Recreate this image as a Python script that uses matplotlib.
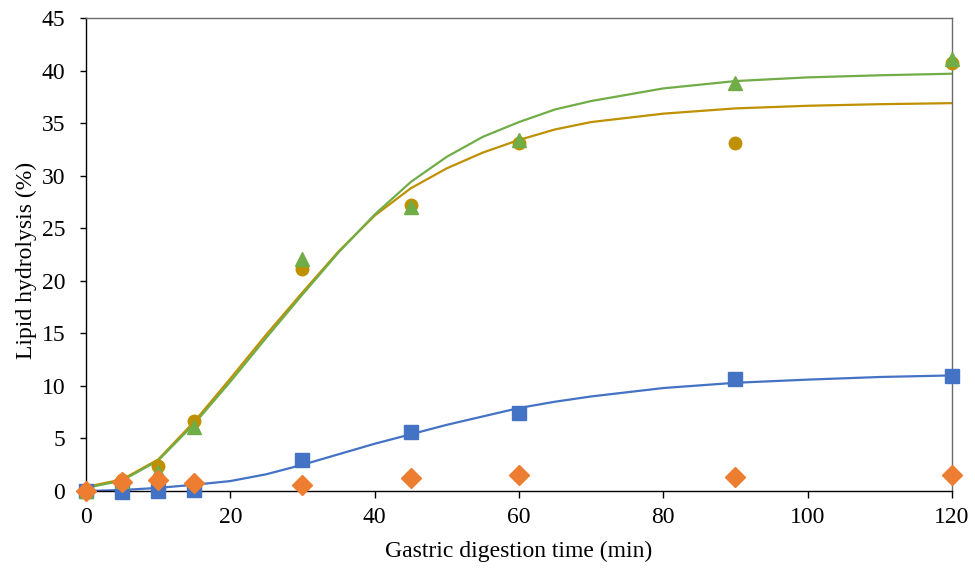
import matplotlib.pyplot as plt

# measured time points (min)
time = [0, 5, 10, 15, 30, 45, 60, 90, 120]

# lipid hydrolysis (%) per sample
blue_sq = [0.0, -0.05, 0.0, 0.1, 3.0, 5.6, 7.45, 10.65, 10.95]
orange_dia = [0.0, 0.9, 1.05, 0.75, 0.6, 1.2, 1.5, 1.3, 1.5]
gold_circ = [0.0, 1.05, 2.35, 6.7, 21.1, 27.2, 33.1, 33.1, 40.7]
green_tri = [0.0, 1.0, 1.8, 6.1, 22.1, 27.0, 33.4, 38.8, 41.1]

# fitted curves
fit_time = [0, 5, 10, 15, 20, 25, 30, 35, 40, 45, 50, 55, 60, 65, 70, 80, 90, 100, 110, 120]
blue_fit = [0.0, 0.1, 0.3, 0.6, 0.95, 1.6, 2.5, 3.5, 4.5, 5.4, 6.3, 7.1, 7.9, 8.5,
            9.0, 9.8, 10.3, 10.6, 10.85, 11.0]
gold_fit = [0.4, 1.1, 3.0, 6.6, 10.7, 14.9, 18.9, 22.8, 26.2, 28.8, 30.7, 32.2, 33.4, 34.4,
            35.1, 35.9, 36.4, 36.65, 36.8, 36.9]
green_fit = [0.3, 1.0, 2.9, 6.4, 10.4, 14.6, 18.7, 22.7, 26.3, 29.4, 31.8, 33.7, 35.1, 36.3,
             37.1, 38.3, 39.0, 39.35, 39.55, 39.7]

BLUE = '#4472C4'
ORANGE = '#ED7D31'
GOLD = '#BF9000'
GREEN = '#70AD47'

plt.rcParams['font.family'] = ['Liberation Serif', 'DejaVu Serif']

fig = plt.figure(figsize=(9.75, 5.71), dpi=100)
ax = fig.add_axes([0.0882, 0.140, 0.8882, 0.8285])

ax.plot(fit_time, blue_fit, color=BLUE, lw=1.6, zorder=2)
ax.plot(fit_time, gold_fit, color=GOLD, lw=1.6, zorder=2)
ax.plot(fit_time, green_fit, color=GREEN, lw=1.6, zorder=2)

ax.plot(time, blue_sq, 's', color=BLUE, ms=10, ls='none', clip_on=False, zorder=3)
ax.plot(time, gold_circ, 'o', color=GOLD, ms=9, ls='none', clip_on=False, zorder=4)
ax.plot(time, green_tri, '^', color=GREEN, ms=9.5, ls='none', clip_on=False, zorder=5)
ax.plot(time, orange_dia, 'D', color=ORANGE, ms=10, ls='none', clip_on=False, zorder=6)

ax.set_xlim(0, 120)
ax.set_ylim(0, 45)
ax.set_xticks(range(0, 121, 20))
ax.set_yticks(range(0, 46, 5))
ax.tick_params(direction='out', width=1, labelsize=17, colors='black')
ax.tick_params(axis='x', length=5, pad=6.5)
ax.tick_params(axis='y', length=4.5, pad=10.5)

for s in ['top', 'right']:
    ax.spines[s].set_color('#6b6b6b')
    ax.spines[s].set_linewidth(1)
for s in ['left', 'bottom']:
    ax.spines[s].set_color('black')
    ax.spines[s].set_linewidth(1)

ax.set_xlabel('Gastric digestion time (min)', fontsize=17)
ax.set_ylabel('Lipid hydrolysis (%)', fontsize=17)
ax.xaxis.set_label_coords(0.5, -0.106)
ax.yaxis.set_label_coords(-0.057, 0.488)

fig.savefig('out.png', dpi=100)
